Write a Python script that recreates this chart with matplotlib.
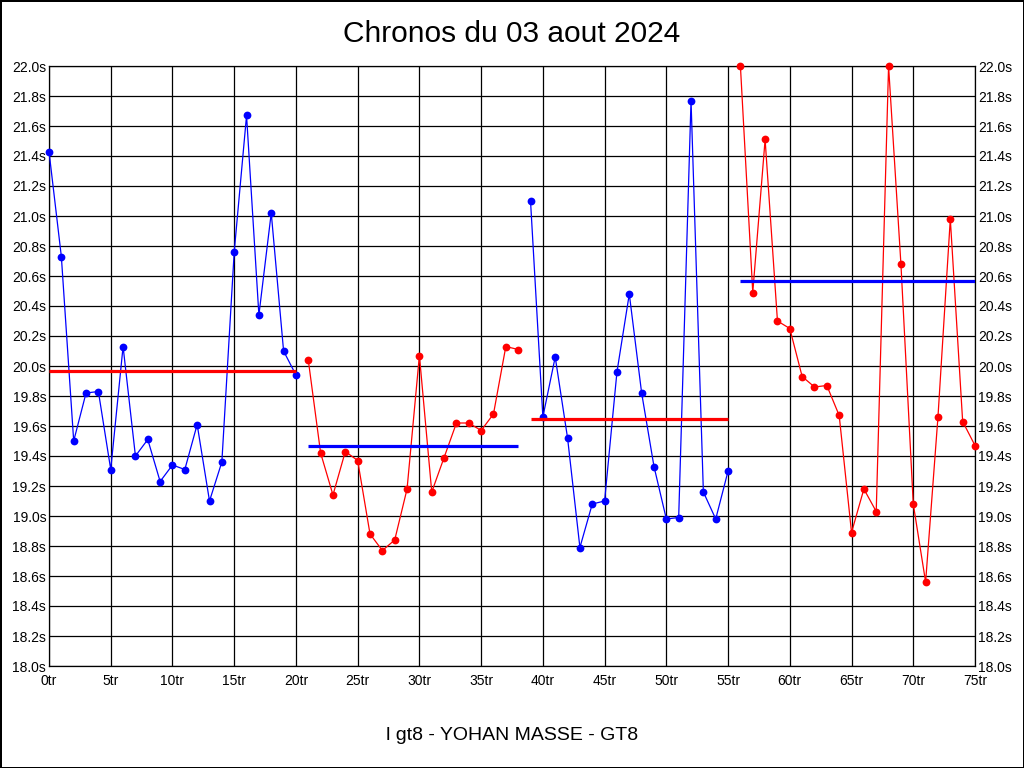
import matplotlib
matplotlib.use("Agg")
import matplotlib.pyplot as plt
from matplotlib.ticker import MultipleLocator, FuncFormatter

plt.rcParams['font.family'] = ['Liberation Sans', 'DejaVu Sans']

# ---- data ----
laps_1 = list(range(0, 21))
times_1 = [21.43, 20.73, 19.50, 19.82, 19.83, 19.31, 20.13, 19.40, 19.51, 19.23,
           19.34, 19.31, 19.61, 19.10, 19.36, 20.76, 21.67, 20.34, 21.02, 20.10, 19.94]
laps_2 = list(range(21, 39))
times_2 = [20.04, 19.42, 19.14, 19.43, 19.37, 18.88, 18.77, 18.84, 19.18, 20.07,
           19.16, 19.39, 19.62, 19.62, 19.57, 19.68, 20.13, 20.11]
laps_3 = list(range(39, 56))
times_3 = [21.10, 19.66, 20.06, 19.52, 18.79, 19.08, 19.10, 19.96, 20.48, 19.82,
           19.33, 18.98, 18.99, 21.77, 19.16, 18.98, 19.30]
laps_4 = list(range(56, 76))
times_4 = [22.00, 20.49, 21.51, 20.30, 20.25, 19.93, 19.86, 19.87, 19.67, 18.89,
           19.18, 19.03, 22.00, 20.68, 19.08, 18.56, 19.66, 20.98, 19.63, 19.47]

series_laps = [laps_1, laps_2, laps_3, laps_4]
series_times = [times_1, times_2, times_3, times_4]
series_colors = ['#0000ff', '#ff0000', '#0000ff', '#ff0000']
avg_values = [19.97, 19.47, 19.65, 20.57]
avg_colors = ['#ff0000', '#0000ff', '#ff0000', '#0000ff']

title = "Chronos du 03 aout 2024"
xlabel = "l gt8 - YOHAN MASSE - GT8"

# ---- figure ----
W, H = 1024, 768
fig = plt.figure(figsize=(W / 100, H / 100), dpi=100)
fig.patch.set_facecolor('white')
fig.patch.set_edgecolor('black')
fig.patch.set_linewidth(2)

ax = fig.add_axes([49 / W, (H - 666) / H, 926 / W, 600 / H])

for lx, ty, c in zip(series_laps, series_times, series_colors):
    ax.plot(lx, ty, color=c, linewidth=0.9, marker='o', markersize=5.6,
            markeredgewidth=0, clip_on=False, zorder=3)

for lx, avg, c in zip(series_laps, avg_values, avg_colors):
    ax.hlines(avg, lx[0], lx[-1], color=c, linewidth=2.3, zorder=4)

ax.set_xlim(0, 75)
ax.set_ylim(18.0, 22.0)
ax.xaxis.set_major_locator(MultipleLocator(5))
ax.yaxis.set_major_locator(MultipleLocator(0.2))
ax.xaxis.set_major_formatter(FuncFormatter(lambda v, p: f"{int(round(v))}tr"))
ax.yaxis.set_major_formatter(FuncFormatter(lambda v, p: f"{v:.1f}s"))
ax.grid(True, color='black', linewidth=0.9)
ax.set_axisbelow(True)
for s in ax.spines.values():
    s.set_color('black')
    s.set_linewidth(0.9)

ax.tick_params(axis='y', which='both', length=0, labelsize=10, pad=2,
               labelleft=True, labelright=True, colors='black')
ax.tick_params(axis='x', which='both', length=0, labelsize=10, pad=6, colors='black')

fig.text(0.5, 1 - 34 / H, title, ha='center', va='center', fontsize=21.5)
fig.text(0.5, 1 - 735 / H, xlabel, ha='center', va='center', fontsize=14)

fig.savefig("out.png", dpi=100, facecolor=fig.get_facecolor(),
            edgecolor=fig.get_edgecolor())
